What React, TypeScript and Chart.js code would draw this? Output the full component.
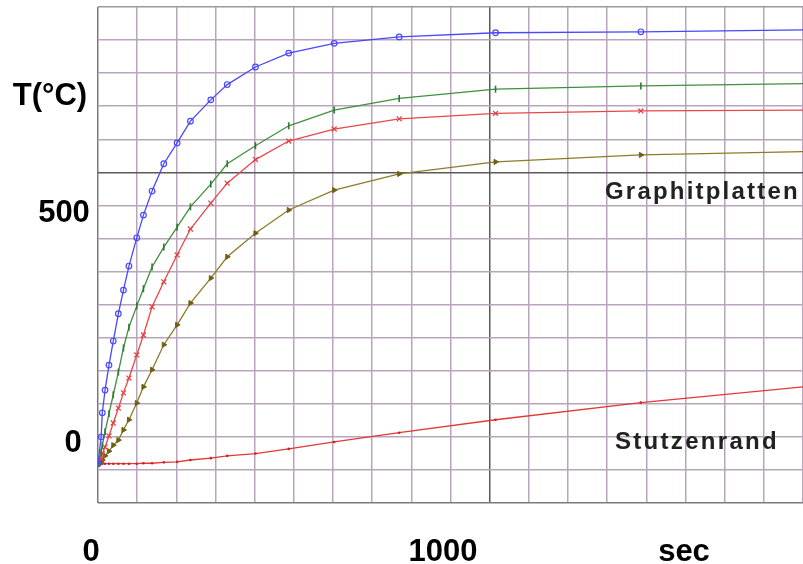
import React, { useEffect, useRef } from 'react';
import { Chart, registerables } from 'chart.js';
Chart.register(...registerables);

// time axis (sec)
const times = [0, 8, 11, 18, 28, 39, 52, 65, 79, 99, 116, 138, 168, 202, 236, 288, 330, 402, 487, 603, 769, 1015, 1386, 1800];
// temperatures (°C)
const blueSeries = [-58, 0, 52, 101, 155, 207, 266, 317, 369, 430, 479, 531, 590, 635, 682, 728, 761, 799, 829, 850, 864, 873, 875, 879];
const greenSeries = [-58, -33, -18, 11, 50, 91, 140, 192, 237, 283, 320, 367, 410, 453, 497, 546, 590, 629, 672, 706, 731, 751, 758, 763];
const redSeries = [-58, -46, -37, -22, 2, 30, 62, 95, 127, 177, 220, 281, 335, 393, 449, 505, 548, 599, 639, 665, 687, 699, 704, 706];
const oliveSeries = [-58, -54, -50, -41, -31, -18, -7, 15, 37, 73, 108, 145, 199, 242, 289, 343, 389, 440, 490, 533, 568, 594, 609, 616];
const rimSeries = [-58, -58, -58, -58, -58, -58, -58, -58, -58, -58, -57, -57, -55, -54, -50, -46, -41, -36, -26, -11, 9, 37, 74, 108];

const yTickLabels = ['0', '500'];
const xTickLabels = ['0', '1000'];
const yTitle = 'T(°C)';
const xTitle = 'sec';
const seriesLabels = ['Graphitplatten', 'Stutzenrand'];

const X_MAX = 1800;
const Y_STEP = 500 / 7;
const Y_MIN = -2 * Y_STEP;
const Y_MAX = 13 * Y_STEP;

const BIG = 'bold 31px "Liberation Sans", Arial, sans-serif';
const SMALL = 'bold 24px "Liberation Sans", Arial, sans-serif';

// text placements (layout)
const texts = [
  { text: yTitle, x: 50, y: 105, font: BIG, align: 'center', spacing: '0px', color: '#000' },
  { text: yTickLabels[1], x: 64, y: 222, font: BIG, align: 'center', spacing: '0px', color: '#000' },
  { text: yTickLabels[0], x: 73, y: 452, font: BIG, align: 'center', spacing: '0px', color: '#000' },
  { text: xTickLabels[0], x: 91, y: 561, font: BIG, align: 'center', spacing: '0px', color: '#000' },
  { text: xTickLabels[1], x: 443, y: 561, font: BIG, align: 'center', spacing: '0px', color: '#000' },
  { text: xTitle, x: 684, y: 561, font: BIG, align: 'center', spacing: '0px', color: '#000' },
  { text: seriesLabels[0], x: 605, y: 199, font: SMALL, align: 'left', spacing: '2.2px', color: '#222' },
  { text: seriesLabels[1], x: 615, y: 449, font: SMALL, align: 'left', spacing: '2.3px', color: '#222' },
];

const textPlugin = {
  id: 'freeText',
  afterDraw(chart: any) {
    const ctx = chart.ctx;
    ctx.save();
    for (const t of texts) {
      ctx.font = t.font;
      ctx.fillStyle = t.color;
      ctx.textAlign = t.align;
      ctx.textBaseline = 'alphabetic';
      try { (ctx as any).letterSpacing = t.spacing; } catch (e) {}
      ctx.fillText(t.text, t.x, t.y);
    }
    ctx.restore();
  },
};

const lastZero = (r: number) => times.map((_, i) => (i === times.length - 1 ? 0 : r));
const pts = (arr: number[]) => times.map((t, i) => ({ x: t, y: arr[i] }));

export default function App() {
  const ref = useRef<HTMLCanvasElement>(null);
  useEffect(() => {
    if (!ref.current) return;
    const chart = new Chart(ref.current, {
      type: 'line',
      data: {
        datasets: [
          {
            data: pts(blueSeries), borderColor: '#4848ff', backgroundColor: 'rgba(255,255,255,0)',
            borderWidth: 1.3, pointStyle: 'circle', pointRadius: lastZero(2.8), pointBorderWidth: 1.2,
            pointBorderColor: '#4848ff', pointBackgroundColor: 'rgba(255,255,255,0)', tension: 0,
          },
          {
            data: pts(greenSeries), borderColor: '#3f8f3f', backgroundColor: '#3f8f3f',
            borderWidth: 1.3, pointStyle: 'line', pointRotation: 90, pointRadius: lastZero(3.5), pointBorderWidth: 1.6,
            pointBorderColor: '#2f7a2f', tension: 0,
          },
          {
            data: pts(redSeries), borderColor: '#e84848', backgroundColor: '#e84848',
            borderWidth: 1.3, pointStyle: 'crossRot', pointRadius: lastZero(3.5), pointBorderWidth: 1.2,
            pointBorderColor: '#e04040', tension: 0,
          },
          {
            data: pts(oliveSeries), borderColor: '#8c7c28', backgroundColor: '#7a6a18',
            borderWidth: 1.3, pointStyle: 'triangle', pointRotation: 90, pointRadius: lastZero(3), pointBorderWidth: 1,
            pointBorderColor: '#6e6010', pointBackgroundColor: '#6e6010', tension: 0,
          },
          {
            data: pts(rimSeries), borderColor: '#e03838', backgroundColor: '#d02020',
            borderWidth: 1.3, pointStyle: 'circle', pointRadius: lastZero(1.3), pointBorderWidth: 0,
            pointBackgroundColor: '#d02020', tension: 0,
          },
        ],
      },
      options: {
        responsive: false,
        animation: false,
        layout: { autoPadding: false, padding: { top: 7, left: 0, right: 0, bottom: 0 } },
        plugins: { legend: { display: false }, tooltip: { enabled: false }, title: { display: false } },
        scales: {
          x: {
            type: 'linear', min: 0, max: X_MAX,
            ticks: { display: false, stepSize: 100, maxTicksLimit: 100 },
            border: { display: false },
            grid: {
              drawTicks: false,
              lineWidth: 1.5,
              color: (c: any) => {
                const v = c.tick && c.tick.value;
                if (v === 1000) return '#5a5a5a';
                if (v === 0) return '#7a7a7a';
                return '#b8a5bb';
              },
            },
            afterFit: (s: any) => { s.height = 61; },
          },
          y: {
            type: 'linear', min: Y_MIN, max: Y_MAX,
            ticks: { display: false, stepSize: Y_STEP, maxTicksLimit: 100 },
            border: { display: false },
            grid: {
              drawTicks: false,
              lineWidth: 1.5,
              color: (c: any) => {
                if (c.index === 10) return '#5a5a5a';
                if (c.index === 0) return '#7a7a7a';
                if (c.index === 15) return '#9a9a9a';
                return '#b8a5bb';
              },
            },
            afterFit: (s: any) => { s.width = 98; },
          },
        },
      },
      plugins: [textPlugin],
    });
    return () => chart.destroy();
  }, []);
  return (
    <div style={{ position: 'absolute', left: 0, top: 0, width: 803, height: 564, background: '#fff' }}>
      <canvas ref={ref} width={803} height={564} style={{ display: 'block' }} />
    </div>
  );
}
